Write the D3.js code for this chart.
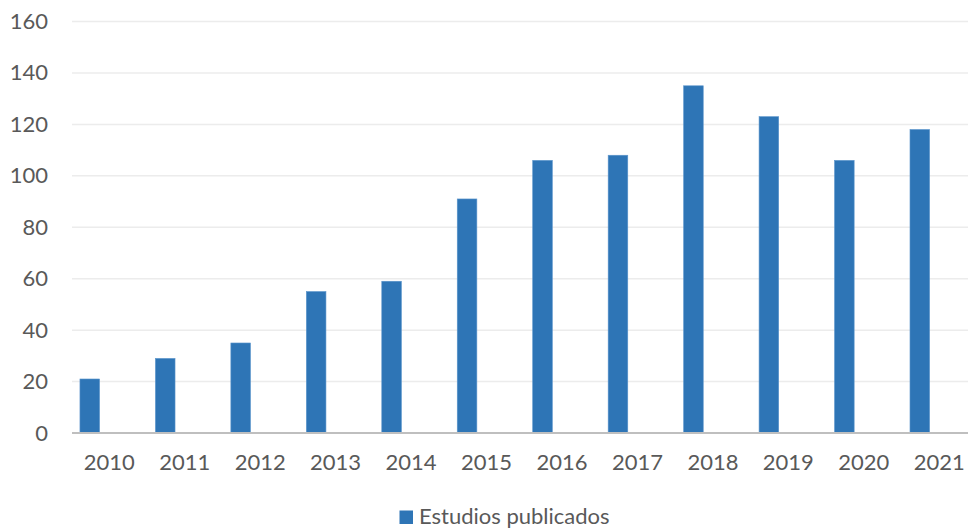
<!DOCTYPE html>
<html><head><meta charset="utf-8">
<script src="https://cdn.jsdelivr.net/npm/d3@7"></script>
<style>body{margin:0;background:#fff}svg{display:block}text{font-family:Lato,"Open Sans",sans-serif;fill:#595959}</style>
</head><body><svg id="c" width="968" height="530"></svg>
<script>
const years = ["2010","2011","2012","2013","2014","2015","2016","2017","2018","2019","2020","2021"];
const estudios = [21,29,35,55,59,91,106,108,135,123,106,118];
const yTicks = [0,20,40,60,80,100,120,140,160];
const seriesName = "Estudios publicados";

const svg = d3.select("#c");
const x = d3.scaleBand().domain(years).range([71.5, 977]).paddingInner(0).paddingOuter(0);
const y = d3.scaleLinear().domain([0,160]).range([433, 21.5]);
const color = "#2e75b6";
const fs = 22;

svg.append("g").selectAll("line").data(yTicks.filter(t=>t>0)).join("line")
  .attr("x1",72).attr("x2",968).attr("y1",d=>y(d)).attr("y2",d=>y(d))
  .attr("stroke","#ececec").attr("stroke-width",1.5);

const yAxis = d3.axisLeft(y).tickValues(yTicks).tickSize(0).tickPadding(0);
const gy = svg.append("g").attr("transform","translate(48,0)").call(yAxis);
gy.select(".domain").remove();
gy.selectAll("text").attr("font-size",fs).attr("fill","#595959").style("font-family","Lato,'Open Sans',sans-serif");

const bw = x.bandwidth();
svg.append("g").selectAll("rect").data(years.map((yr,i)=>({yr,v:estudios[i]}))).join("rect")
  .attr("x",d=>x(d.yr)+bw*0.112).attr("width",bw*0.26)
  .attr("y",d=>y(d.v)).attr("height",d=>y(0)-y(d.v))
  .attr("fill",color).attr("stroke","#5b95cc").attr("stroke-width",0.6);

svg.append("line").attr("x1",72).attr("x2",968).attr("y1",y(0)).attr("y2",y(0))
  .attr("stroke","#bfbfbf").attr("stroke-width",2.2);

const xAxis = d3.axisBottom(x).tickSize(0).tickPadding(0);
const gx = svg.append("g").attr("transform","translate(0,"+(y(0)+21.5)+")").call(xAxis);
gx.select(".domain").remove();
gx.selectAll("text").attr("font-size",fs).attr("fill","#595959").style("font-family","Lato,'Open Sans',sans-serif");

const lg = svg.append("g");
lg.append("rect").attr("x",399.5).attr("y",510.5).attr("width",13.5).attr("height",13.5).attr("fill",color);
lg.append("text").attr("x",419).attr("y",524).attr("font-size",fs).text(seriesName);
</script></body></html>
